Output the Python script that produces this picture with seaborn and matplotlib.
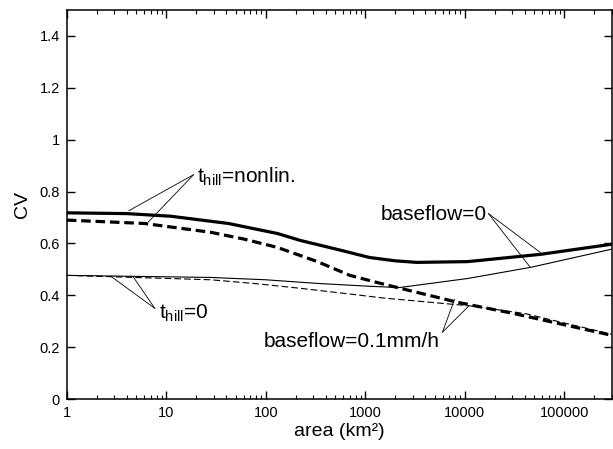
import numpy as np
import pandas as pd
import matplotlib
matplotlib.use("Agg")
import matplotlib.pyplot as plt
import seaborn as sns

# ---- data ----
area_nonlin_bf0 = [1, 4, 11, 42, 132, 220, 550, 1100, 2000, 3300, 10700, 57500, 300000]
cv_nonlin_bf0 = [0.718, 0.715, 0.705, 0.677, 0.638, 0.612, 0.575, 0.546, 0.533, 0.527, 0.53, 0.558, 0.597]

area_nonlin_bf01 = [1, 6, 28, 60, 130, 330, 700, 1300, 2100, 8500, 31000, 300000]
cv_nonlin_bf01 = [0.69, 0.677, 0.643, 0.617, 0.585, 0.53, 0.477, 0.45, 0.43, 0.373, 0.33, 0.246]

area_zero_bf0 = [1, 28, 100, 330, 1100, 2200, 10700, 46000, 300000]
cv_zero_bf0 = [0.477, 0.469, 0.46, 0.446, 0.435, 0.43, 0.465, 0.508, 0.578]

area_zero_bf01 = [1, 28, 80, 224, 600, 1500, 5600, 11000, 40000, 300000]
cv_zero_bf01 = [0.477, 0.46, 0.445, 0.427, 0.408, 0.39, 0.37, 0.36, 0.33, 0.25]

series_names = ["nonlin_bf0", "nonlin_bf01", "zero_bf0", "zero_bf01"]

xtick_vals = [1, 10, 100, 1000, 10000, 100000]
xtick_labels = ["1", "10", "100", "1000", "10000", "100000"]
ytick_vals = [0, 0.2, 0.4, 0.6, 0.8, 1.0, 1.2, 1.4]
ytick_labels = ["0", "0.2", "0.4", "0.6", "0.8", "1", "1.2", "1.4"]

frames = []
for name, xs, ys in zip(series_names,
                        [area_nonlin_bf0, area_nonlin_bf01, area_zero_bf0, area_zero_bf01],
                        [cv_nonlin_bf0, cv_nonlin_bf01, cv_zero_bf0, cv_zero_bf01]):
    frames.append(pd.DataFrame({"area": xs, "CV": ys, "series": name}))
df = pd.concat(frames, ignore_index=True)

sns.set_style("ticks")
plt.rcParams["font.family"] = ["Liberation Sans", "DejaVu Sans"]
plt.rcParams["mathtext.fontset"] = "custom"
plt.rcParams["mathtext.rm"] = "Liberation Sans"
plt.rcParams["mathtext.it"] = "Liberation Sans"
plt.rcParams["text.color"] = "black"
plt.rcParams["axes.labelcolor"] = "black"
plt.rcParams["xtick.color"] = "black"
plt.rcParams["ytick.color"] = "black"

fig = plt.figure(figsize=(6.13, 4.49), dpi=100)
ax = fig.add_axes([0.109, 0.111, 0.889, 0.867])

palette = {n: "black" for n in series_names}
sizes = {"nonlin_bf0": 2.3, "nonlin_bf01": 2.3, "zero_bf0": 0.8, "zero_bf01": 0.8}
dashes = {"nonlin_bf0": "", "nonlin_bf01": (3.0, 1.5), "zero_bf0": "", "zero_bf01": (6.0, 2.8)}

sns.lineplot(data=df, x="area", y="CV", hue="series", size="series", style="series",
             palette=palette, sizes=sizes, dashes=dashes, legend=False, ax=ax,
             estimator=None, sort=True)

ax.set_xscale("log")
ax.set_xlim(1, 3e5)
ax.set_ylim(0, 1.5)
ax.set_xticks(xtick_vals)
ax.set_xticklabels(xtick_labels)
ax.set_yticks(ytick_vals)
ax.set_yticklabels(ytick_labels)

for s in ax.spines.values():
    s.set_visible(True)
    s.set_linewidth(1.1)
    s.set_color("black")

ax.tick_params(which="both", direction="in", top=True, right=True, colors="black",
               labelcolor="black", labelsize=10.5)
ax.tick_params(which="major", length=5.5, width=1.0, pad=5)
ax.tick_params(which="minor", length=3, width=0.8)

ax.set_xlabel("area (km²)", fontsize=14, labelpad=2, color="black")
ax.set_ylabel("CV", fontsize=14, labelpad=6, color="black")

lk = dict(arrowprops=dict(arrowstyle="-", lw=0.6, color="black", shrinkA=0, shrinkB=0))

# t_hill = nonlin.
apex = (18.8, 0.865)
ax.annotate("", xy=(4.2, 0.726), xytext=apex, **lk)
ax.annotate("", xy=(6.6, 0.683), xytext=apex, **lk)
ax.text(20.5, 0.835, r"t$_{\mathrm{hill}}$=nonlin.", fontsize=15, ha="left", va="baseline",
        color="black")

# t_hill = 0
apex = (7.66, 0.35)
ax.annotate("", xy=(2.76, 0.474), xytext=apex, **lk)
ax.annotate("", xy=(4.6, 0.474), xytext=apex, **lk)
ax.text(8.4, 0.31, r"t$_{\mathrm{hill}}$=0", fontsize=15, ha="left", va="baseline",
        color="black")

# baseflow = 0
apex = (17300, 0.715)
ax.annotate("", xy=(57500, 0.565), xytext=apex, **lk)
ax.annotate("", xy=(45500, 0.508), xytext=apex, **lk)
ax.text(16500, 0.69, "baseflow=0", fontsize=15, ha="right", va="baseline", color="black")

# baseflow = 0.1 mm/h
apex = (5960, 0.258)
ax.annotate("", xy=(7900, 0.385), xytext=apex, **lk)
ax.annotate("", xy=(10900, 0.358), xytext=apex, **lk)
ax.text(5560, 0.2, "baseflow=0.1mm/h", fontsize=15, ha="right", va="baseline", color="black")

fig.savefig("out.png", dpi=100)
